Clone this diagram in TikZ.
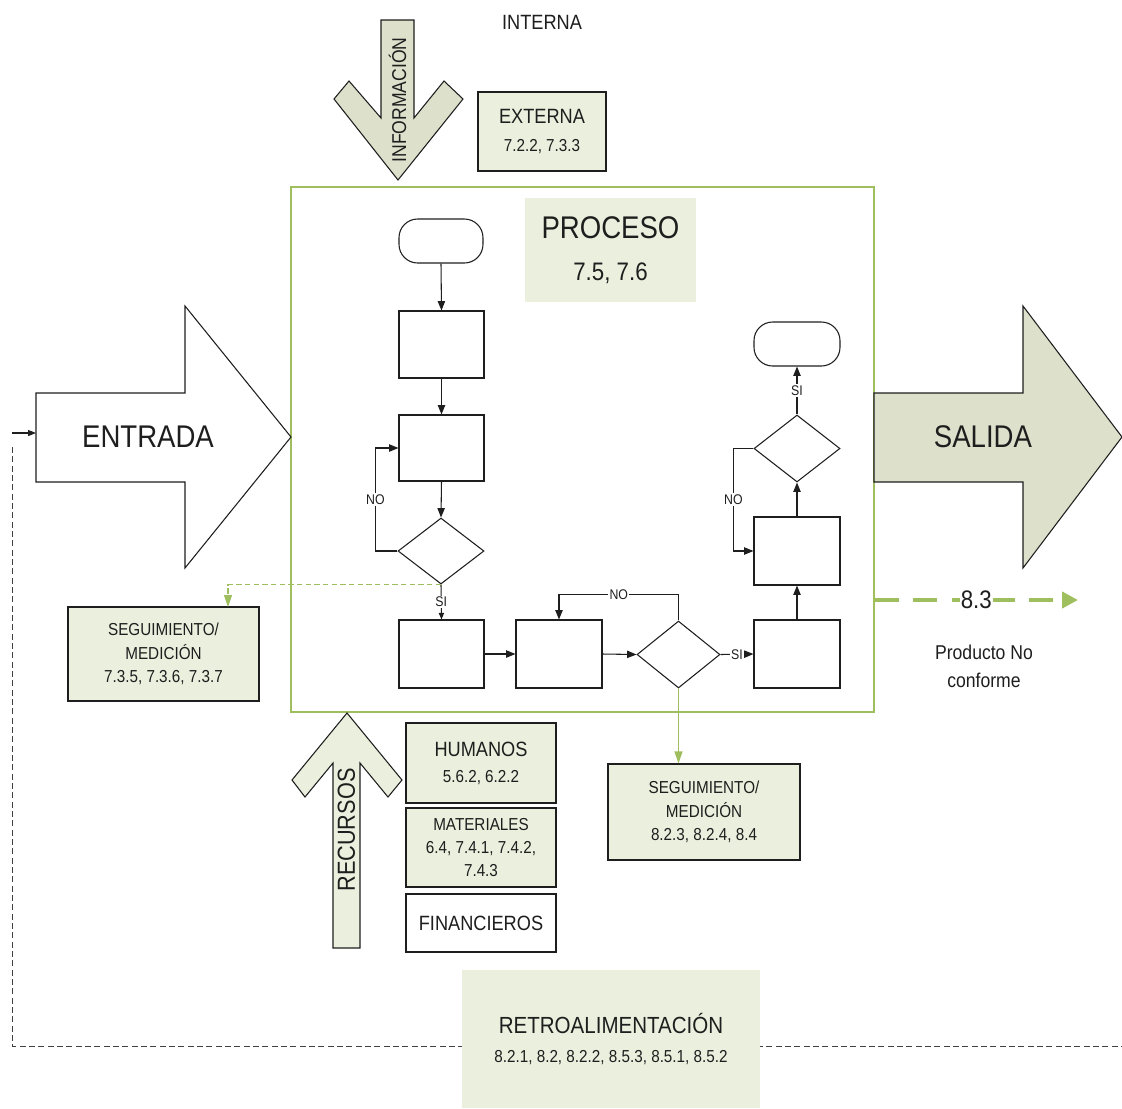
\documentclass[tikz,border=0pt]{standalone}
\usepackage{fontspec}
\setmainfont[FakeStretch=0.88]{Liberation Sans}
\usetikzlibrary{arrows.meta,shapes.geometric}
\definecolor{olivefill}{HTML}{EBF0DE}
\definecolor{olivedark}{HTML}{DDE0CB}
\definecolor{procgreen}{HTML}{9FBF5F}
\definecolor{ink}{HTML}{1E1E1E}
\newcommand{\fsz}[2]{\fontsize{#1}{#2}\selectfont}
\tikzset{
  sz/.style 2 args={minimum width=#1*0.75pt, minimum height=#2*0.75pt},
  flow/.style={draw=ink, line width=0.8pt},
  fbox/.style={flow, rectangle, inner sep=0pt},
  fdia/.style={flow, diamond, inner sep=0pt},
  conn/.style={draw=ink, line width=0.8pt, -{Triangle[length=7pt,width=5.5pt]}},
  lbl/.style={fill=white, inner sep=1pt, font=\fsz{10.5}{12}, text=ink},
  infobox/.style={draw=ink, line width=0.8pt, fill=olivefill, inner sep=0pt, align=center, text=ink},
  bigarrow/.style={draw=ink, line width=0.8pt},
  txt/.style={inner sep=0pt, text=ink, align=center},
  gline/.style={draw=procgreen, line width=0.9pt, -{Triangle[length=9pt,width=6pt]}},
}
\begin{document}
\begin{tikzpicture}[x=0.75pt,y=-0.75pt]
\useasboundingbox (0,0) rectangle (1122,1108);

% process frame
\node[draw=procgreen, line width=1pt, inner sep=0pt, sz={583}{525}] (proc) at (582.5,449.5) {};

% feedback loop (dashed) back to the input
\coordinate (fbTop) at (12,447);
\coordinate (fbCorner) at (12,1046);
\coordinate (fbEnd) at (1122,1046);
\draw[draw=ink!85, line width=0.7pt, dash pattern=on 4.5pt off 2.5pt] (fbTop) -- (fbCorner) -- (fbEnd);
\coordinate (fbIn) at (12,433);
\coordinate (entW) at (36,433);
\draw[draw=ink, line width=0.8pt, -{Triangle[length=6pt,width=4.5pt]}] (fbIn) -- (entW);

% ENTRADA arrow
\draw[bigarrow, fill=white] (36,393) -- (185,393) -- (185,306) -- (291,437) -- (185,568) -- (185,482) -- (36,482) -- cycle;
\node[txt, font=\fsz{23.5}{26}] (entrada) at (148,437) {ENTRADA};

% SALIDA arrow
\draw[bigarrow, fill=olivedark] (874,393) -- (1023,393) -- (1023,306) -- (1122,437) -- (1023,568) -- (1023,482) -- (874,482) -- cycle;
\node[txt, font=\fsz{23.5}{26}] (salida) at (983,437) {SALIDA};

% INFORMACION arrow
\draw[bigarrow, fill=olivedark] (381,20) -- (414,20) -- (414,118) -- (444,81) -- (463,99) -- (398,180) -- (334,99) -- (349,81) -- (381,118) -- cycle;
\node[txt, rotate=90, font=\fsz{15}{17}] (info) at (397.5,100) {INFORMACIÓN};

\node[txt, font=\fsz{15.5}{18}] (interna) at (542,22) {INTERNA};
\node[infobox, sz={128}{79}, font=\fsz{13}{21}] (externa) at (542,131.5) {{\fsz{15.5}{21}EXTERNA}\\7.2.2, 7.3.3};

% PROCESO label
\node[fill=olivefill, inner sep=0pt, align=center, text=ink, sz={171}{104}, font=\fsz{19}{31.5}] (proceso) at (610.5,250) {{\fsz{23.5}{31.5}PROCESO}\\7.5, 7.6};

% flowchart: left column
\node[fbox, rounded corners=14pt, sz={84}{44}] (t1) at (441,241) {};
\node[fbox, sz={85}{67}] (b1) at (441.5,344.5) {};
\node[fbox, sz={85}{66}] (b2) at (441.5,448) {};
\node[fdia, minimum width=64.5pt, minimum height=49.5pt] (d1) at (441,551) {};
\node[fbox, sz={85}{68}] (b3) at (441.5,654) {};
% bottom row
\node[fbox, sz={86}{68}] (b4) at (559,654) {};
\node[fdia, minimum width=62.25pt, minimum height=50.25pt] (d2) at (678.5,654.5) {};
\node[fbox, sz={86}{68}] (b5) at (797,654) {};
% right column
\node[fbox, sz={86}{68}] (b6) at (797,551) {};
\node[fdia, minimum width=64.5pt, minimum height=50.25pt] (d3) at (797,448.5) {};
\node[fbox, rounded corners=14pt, sz={86}{44}] (t2) at (797,344) {};

\draw[conn] (t1.south) -- (b1.north);
\draw[conn] (b1.south) -- (b2.north);
\draw[conn] (b2.south) -- (d1.north);
\draw[conn] (d1.west) -- ++(-22,0) |- node[lbl, pos=0.25] {NO} (b2.west);
\draw[conn, -{Triangle[length=5pt,width=4pt]}] (d1.south) -- node[lbl, pos=0.5] {SI} (b3.north);
\draw[conn] (b3.east) -- (b4.west);
\draw[conn] (b4.east) -- (d2.west);
\draw[conn] (d2.north) -- ++(0,-26) -| node[lbl, pos=0.25] {NO} (b4.north);
\draw[conn] (d2.east) -- node[lbl, pos=0.5] {SI} (b5.west);
\draw[conn] (b5.north) -- (b6.south);
\draw[conn] (b6.north) -- (d3.south);
\draw[conn] (d3.west) -- ++(-20,0) |- node[lbl, pos=0.25] {NO} (b6.west);
\draw[conn] (d3.north) -- node[lbl, pos=0.5] {SI} (t2.south);

% monitoring boxes
\node[infobox, sz={191}{94}, font=\fsz{13}{17.5}] (segL) at (163.5,654) {SEGUIMIENTO/\\MEDICIÓN\\7.3.5, 7.3.6, 7.3.7};
\node[infobox, sz={192}{96}, font=\fsz{13}{17.5}] (segB) at (704,812) {SEGUIMIENTO/\\MEDICIÓN\\8.2.3, 8.2.4, 8.4};
\coordinate (segLin) at (228,607);
\draw[gline, dash pattern=on 4pt off 2.5pt] (d1.south) -| (segLin);
\draw[gline] (d2.south) -- (d2.south |- segB.north);

% non-conforming product
\coordinate (ncTo) at (1078,600);
\draw[draw=procgreen, line width=3pt, dash pattern=on 18pt off 11pt, -{Triangle[length=12pt,width=12pt]}] (proc.east |- ncTo) -- node[fill=white, inner sep=1pt, text=ink, font=\fsz{19}{22}] {8.3} (ncTo);
\node[txt, font=\fsz{15}{21}] (nc) at (984,666) {Producto No\\conforme};

% RECURSOS arrow
\draw[bigarrow, fill=olivefill] (347,713) -- (402,780) -- (388,797) -- (360,763) -- (360,948) -- (333,948) -- (333,763) -- (305,797) -- (292,780) -- cycle;
\node[txt, rotate=90, font=\fsz{18.5}{20}] (recursos) at (346.5,830) {RECURSOS};

\node[infobox, sz={150}{80}, font=\fsz{13}{19.5}] (humanos) at (481,763) {{\fsz{15.5}{19.5}HUMANOS}\\5.6.2, 6.2.2};
\node[infobox, sz={150}{79}, font=\fsz{13}{17.6}] (materiales) at (481,847.5) {MATERIALES\\6.4, 7.4.1, 7.4.2,\\7.4.3};
\node[infobox, fill=white, sz={150}{58}, font=\fsz{15.5}{18}] (financieros) at (481,923) {FINANCIEROS};

% feedback box
\node[fill=olivefill, inner sep=0pt, align=center, text=ink, sz={298}{138}, font=\fsz{13}{22}] (retro) at (611,1039) {{\fsz{17.5}{22}RETROALIMENTACIÓN}\\8.2.1, 8.2, 8.2.2, 8.5.3, 8.5.1, 8.5.2};
\end{tikzpicture}
\end{document}
